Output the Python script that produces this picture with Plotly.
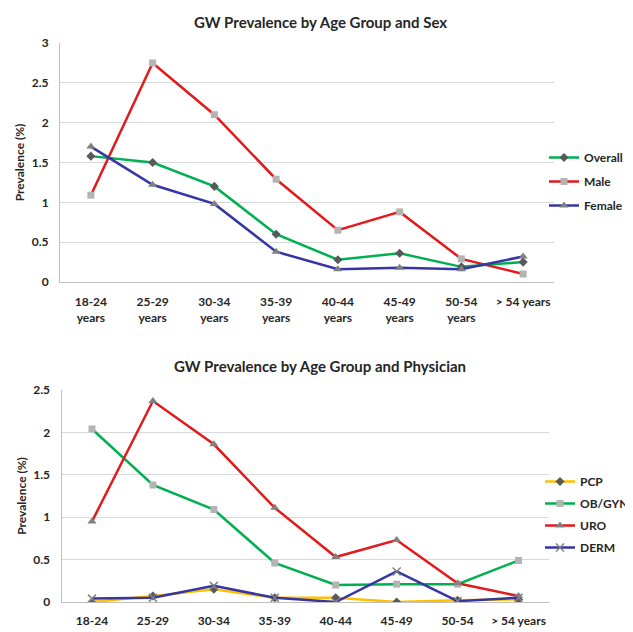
import plotly.graph_objects as go

ages_top = ["18-24<br>years", "25-29<br>years", "30-34<br>years", "35-39<br>years",
            "40-44<br>years", "45-49<br>years", "50-54<br>years", "> 54 years"]
ages_bot = ["18-24", "25-29", "30-34", "35-39", "40-44", "45-49", "50-54", "> 54 years"]

overall = [1.58, 1.50, 1.20, 0.60, 0.28, 0.36, 0.19, 0.25]
male = [1.09, 2.75, 2.10, 1.29, 0.65, 0.88, 0.29, 0.10]
female = [1.70, 1.22, 0.98, 0.38, 0.16, 0.18, 0.16, 0.32]

pcp = [0.00, 0.07, 0.15, 0.05, 0.05, 0.00, 0.02, 0.03]
obgyn = [2.04, 1.38, 1.09, 0.46, 0.20, 0.21, 0.21, 0.49]
uro = [0.95, 2.37, 1.86, 1.11, 0.53, 0.73, 0.22, 0.07]
derm = [0.04, 0.05, 0.19, 0.05, 0.00, 0.36, 0.01, 0.05]

FONT = "Lato"
GREEN = "#00b050"
RED = "#e31a1c"
BLUE = "#3535a5"
YELLOW = "#ffc000"
TXT = "#262626"

W, H = 633, 632
OFF = 8  # page body margin

def px(x):
    return (x - OFF) / W

def py(y):
    return 1 - (y - OFF) / H

fig = go.Figure()

def add(x, y, name, color, symbol, mcolor, xa, ya, legend, size=7):
    fig.add_trace(go.Scatter(
        x=x, y=y, name=name, mode="lines+markers",
        line=dict(color=color, width=2.5),
        marker=dict(symbol=symbol, size=size, color=mcolor,
                    line=dict(width=1.5 if symbol == "x-thin" else 0, color=mcolor)),
        xaxis=xa, yaxis=ya, legend=legend, legendgroup=name,
    ))

add(ages_top, overall, "Overall", GREEN, "diamond", "#595959", "x", "y", "legend")
add(ages_top, male, "Male", RED, "square", "#b4b4b4", "x", "y", "legend")
add(ages_top, female, "Female", BLUE, "triangle-up", "#808080", "x", "y", "legend", 8)

add(ages_bot, pcp, "PCP", YELLOW, "diamond", "#595959", "x2", "y2", "legend2")
add(ages_bot, obgyn, "OB/GYN", GREEN, "square", "#b4b4b4", "x2", "y2", "legend2")
add(ages_bot, uro, "URO", RED, "triangle-up", "#808080", "x2", "y2", "legend2", 8)
add(ages_bot, derm, "DERM", BLUE, "x-thin", "#808080", "x2", "y2", "legend2", 8)

tickfont = dict(family=FONT, size=12, color=TXT, weight="bold")
axis_common = dict(showline=True, linecolor="#bfbfbf", linewidth=1, tickfont=tickfont,
                   ticks="", fixedrange=True, automargin=False)
ytitle = dict(text="<b>Prevalence (%)</b>", font=dict(family=FONT, size=12, color=TXT), standoff=4)
legfont = dict(family=FONT, size=12, color=TXT, weight="bold")

fig.update_layout(
    width=W, height=H,
    margin=dict(l=0, r=0, t=0, b=0),
    paper_bgcolor="white", plot_bgcolor="white",
    font=dict(family=FONT, color=TXT),
    xaxis=dict(domain=[px(60), px(554)], anchor="y", type="category",
               range=[-0.5, 7.5], showgrid=False, ticklabelstandoff=9, **axis_common),
    yaxis=dict(domain=[py(282), py(43)], anchor="x", range=[0, 3], dtick=0.5,
               showgrid=True, gridcolor="#d9d9d9", gridwidth=1, zeroline=False,
               title=ytitle, ticklabelstandoff=8, **axis_common),
    xaxis2=dict(domain=[px(61.5), px(549)], anchor="y2", type="category",
                range=[-0.5, 7.5], showgrid=False, ticklabelstandoff=8, **axis_common),
    yaxis2=dict(domain=[py(602), py(390)], anchor="x2", range=[0, 2.5], dtick=0.5,
                showgrid=True, gridcolor="#d9d9d9", gridwidth=1, zeroline=False,
                title=ytitle, ticklabelstandoff=8, **axis_common),
    legend=dict(x=px(544), y=py(143), xanchor="left", yanchor="top",
                font=legfont, itemwidth=30,
                traceorder="grouped", tracegroupgap=5, bgcolor="rgba(0,0,0,0)"),
    legend2=dict(x=px(540), y=py(467), xanchor="left", yanchor="top",
                 font=legfont, itemwidth=30,
                 traceorder="grouped", tracegroupgap=3, bgcolor="rgba(0,0,0,0)"),
    annotations=[
        dict(text="<b>GW Prevalence by Age Group and Sex</b>", x=px(320), y=py(22),
             xref="paper", yref="paper", showarrow=False, xanchor="center", yanchor="middle",
             font=dict(family=FONT, size=15, color=TXT)),
        dict(text="<b>GW Prevalence by Age Group and Physician</b>", x=px(320), y=py(366),
             xref="paper", yref="paper", showarrow=False, xanchor="center", yanchor="middle",
             font=dict(family=FONT, size=15, color=TXT)),
    ],
)

fig.write_html("out.html", config={"displayModeBar": False})
